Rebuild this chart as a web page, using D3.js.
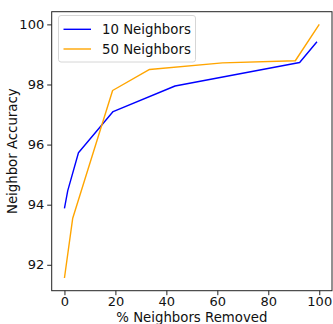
<!DOCTYPE html>
<html>
<head>
<meta charset="utf-8">
<script src="https://cdn.jsdelivr.net/npm/d3@7"></script>
<style>
  html, body { margin: 0; padding: 0; background: #fff; }
  svg { display: block; font-family: "DejaVu Sans", sans-serif; }
</style>
</head>
<body>
<svg id="chart" width="333" height="324"></svg>
<script>
// Neighbor accuracy versus share of neighbors removed
const pctRemoved10 = [0, 1.3, 5.5, 19.1, 43.4, 92.3, 99.1];
const accuracy10   = [93.88, 94.47, 95.73, 97.10, 97.95, 98.73, 99.42];
const pctRemoved50 = [0, 3.25, 18.9, 33.4, 62, 90.6, 100];
const accuracy50   = [91.56, 93.55, 97.80, 98.50, 98.72, 98.79, 100];
const seriesNames  = ["10 Neighbors", "50 Neighbors"];
const seriesColors = ["#0000ff", "#ffa500"];
const xTicks = [0, 20, 40, 60, 80, 100];
const yTicks = [92, 94, 96, 98, 100];

const tickFont = "13px";
const labelFont = "13.3px";
const svg = d3.select("#chart");
const plot = { left: 51.7, right: 332, top: 11.7, bottom: 290.7 };

const x = d3.scaleLinear().domain([-5, 105]).range([plot.left, plot.right]);
const y = d3.scaleLinear().domain([91.138, 100.422]).range([plot.bottom, plot.top]);

const series = [
  { name: seriesNames[0], color: seriesColors[0], xs: pctRemoved10, ys: accuracy10 },
  { name: seriesNames[1], color: seriesColors[1], xs: pctRemoved50, ys: accuracy50 }
];

const line = d3.line().x(d => x(d[0])).y(d => y(d[1]));
series.forEach(s => {
  svg.append("path")
    .datum(d3.zip(s.xs, s.ys))
    .attr("fill", "none")
    .attr("stroke", s.color)
    .attr("stroke-width", 1.4)
    .attr("stroke-linejoin", "round")
    .attr("d", line);
});

// frame
svg.append("rect")
  .attr("x", plot.left).attr("y", plot.top)
  .attr("width", plot.right - plot.left).attr("height", plot.bottom - plot.top)
  .attr("fill", "none").attr("stroke", "#222").attr("stroke-width", 1);

const xAxis = svg.append("g")
  .attr("transform", `translate(0,${plot.bottom})`)
  .call(d3.axisBottom(x).tickValues(xTicks).tickSize(4.5).tickPadding(2).tickFormat(d3.format("d")));
const yAxis = svg.append("g")
  .attr("transform", `translate(${plot.left},0)`)
  .call(d3.axisLeft(y).tickValues(yTicks).tickSize(4.5).tickPadding(3).tickFormat(d3.format("d")));
[xAxis, yAxis].forEach(g => {
  g.select(".domain").remove();
  g.selectAll(".tick line").attr("stroke", "#222");
  g.selectAll(".tick text").attr("fill", "#111")
    .style("font-family", "DejaVu Sans").style("font-size", tickFont);
});

svg.append("text")
  .attr("x", (plot.left + plot.right) / 2).attr("y", 322)
  .attr("text-anchor", "middle")
  .style("font-size", labelFont).attr("fill", "#111")
  .text("% Neighbors Removed");

svg.append("text")
  .attr("transform", `translate(17,${(plot.top + plot.bottom) / 2}) rotate(-90)`)
  .attr("text-anchor", "middle")
  .style("font-size", labelFont).attr("fill", "#111")
  .text("Neighbor Accuracy");

// legend
const lg = svg.append("g");
lg.append("rect")
  .attr("x", 58.5).attr("y", 15.5).attr("width", 137).attr("height", 46.5)
  .attr("rx", 2.5).attr("fill", "#fff").attr("fill-opacity", 0.8)
  .attr("stroke", "#d6d6d6").attr("stroke-width", 1);
series.forEach((s, i) => {
  const yy = 29.3 + i * 19.7;
  lg.append("line")
    .attr("x1", 63.5).attr("x2", 91).attr("y1", yy).attr("y2", yy)
    .attr("stroke", s.color).attr("stroke-width", 1.4);
  lg.append("text")
    .attr("x", 102).attr("y", yy).attr("dy", "0.36em")
    .style("font-size", labelFont).attr("fill", "#111")
    .text(s.name);
});
</script>
</body>
</html>
